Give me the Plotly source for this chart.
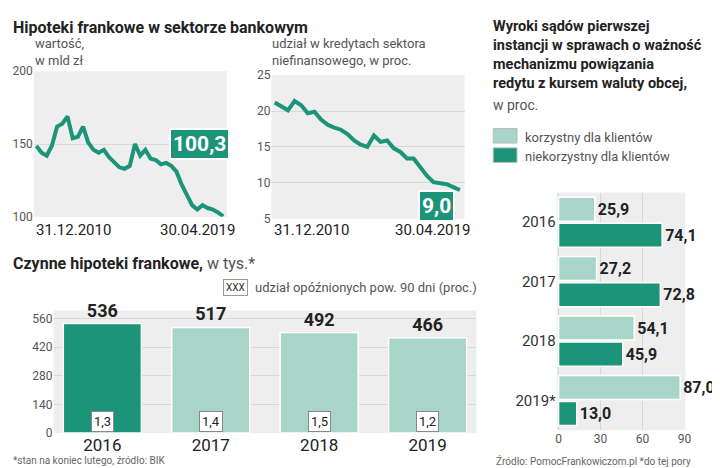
import plotly.graph_objects as go

# --- dane ---
wartosc = [148.7, 144, 142, 149, 162, 164, 169, 154, 155, 162, 151, 146, 144, 146, 141,
           137, 134, 133, 135, 150, 142, 146, 140, 139, 136, 137, 135, 131, 122, 115,
           108, 105, 108, 106, 105, 103, 100.3]
udzial = [21.2, 20.6, 20.1, 21.4, 20.8, 19.7, 19.9, 18.8, 18.1, 17.7, 17.4, 16.8, 15.9,
          15.3, 15.0, 16.6, 15.7, 15.9, 14.8, 14.3, 13.4, 13.4, 12.1, 11.0, 10.1, 9.9,
          9.8, 9.4, 9.0]
lata = ["2016", "2017", "2018", "2019"]
hipoteki = [536, 517, 492, 466]
opoznione = ["1,3", "1,4", "1,5", "1,2"]
lata_wyr = ["2016", "2017", "2018", "2019*"]
korzystny = [25.9, 27.2, 54.1, 87.0]
niekorzystny = [74.1, 72.8, 45.9, 13.0]

DARK = "#1b9479"
LIGHT = "#a8d5c7"
FONT = "Roboto, sans-serif"
W, H = 720, 468

def px(x): return x / W
def py(y): return 1 - y / H

pos = list(range(len(lata)))

fig = go.Figure()
fig.add_trace(go.Scatter(y=wartosc, mode="lines", line=dict(color=DARK, width=4),
                         xaxis="x", yaxis="y", showlegend=False))
fig.add_trace(go.Scatter(y=udzial, mode="lines", line=dict(color=DARK, width=4),
                         xaxis="x2", yaxis="y2", showlegend=False))
fig.add_trace(go.Bar(x=pos, y=hipoteki, width=0.72, orientation="v",
                     marker=dict(color=[DARK, LIGHT, LIGHT, LIGHT], line=dict(color="white", width=1.5)),
                     text=["<b>%d</b>" % v for v in hipoteki], textposition="outside",
                     textfont=dict(size=18, color="#222", family=FONT),
                     xaxis="x3", yaxis="y3", showlegend=False, cliponaxis=False))
fig.add_trace(go.Bar(y=lata_wyr, x=korzystny, orientation="h", marker=dict(color=LIGHT,
                     line=dict(color="white", width=1.5)),
                     text=["<b>" + f"{v:.1f}".replace(".", ",") + "</b>" for v in korzystny],
                     textposition="outside",
                     textfont=dict(size=16, color="#222", family=FONT),
                     xaxis="x4", yaxis="y4", showlegend=False, cliponaxis=False))
fig.add_trace(go.Bar(y=lata_wyr, x=niekorzystny, orientation="h", marker=dict(color=DARK,
                     line=dict(color="white", width=1.5)),
                     text=["<b>" + f"{v:.1f}".replace(".", ",") + "</b>" for v in niekorzystny],
                     textposition="outside",
                     textfont=dict(size=16, color="#222", family=FONT),
                     xaxis="x4", yaxis="y4", showlegend=False, cliponaxis=False))

tickf = dict(size=12, color="#555", family=FONT)
grid = dict(showgrid=True, gridcolor="#d8d8d8", zeroline=False, tickfont=tickf, ticks="")
fig.update_layout(
    width=W, height=H, margin=dict(l=0, r=0, t=0, b=0),
    paper_bgcolor="white", plot_bgcolor="#eeeeee", font=dict(family=FONT),
    barmode="group", bargap=0.12, bargroupgap=0.08,
    xaxis=dict(domain=[px(25), px(220)], visible=False, range=[-0.5, len(wartosc) - 0.3]),
    yaxis=dict(domain=[py(208), py(58)], range=[100, 200], tickvals=[100, 150, 200],
               anchor="x", **grid),
    xaxis2=dict(domain=[px(265), px(460)], visible=False, range=[-0.5, len(udzial) - 0.3]),
    yaxis2=dict(domain=[py(210), py(62)], range=[5, 25], tickvals=[5, 10, 15, 20, 25],
                anchor="x2", **grid),
    xaxis3=dict(domain=[px(45), px(472)], anchor="y3", range=[-0.45, 3.45],
                tickvals=pos, ticktext=lata, showgrid=False, zeroline=False,
                tickfont=dict(size=17, color="#222", family=FONT), ticks=""),
    yaxis3=dict(domain=[py(431), py(304.6)], range=[0, 600], tickvals=[0, 140, 280, 420, 560],
                anchor="x3", **grid),
    xaxis4=dict(domain=[px(553), px(683)], range=[-1.4, 90.7], tickvals=[0, 30, 60, 90],
                anchor="y4", **grid),
    yaxis4=dict(domain=[py(428), py(183)], type="category", autorange="reversed", anchor="x4",
                tickfont=dict(size=15, color="#333", family=FONT), ticks="", showgrid=False),
)

def note(x, y, text, size=13, color="#555", xanchor="left", yanchor="top", **kw):
    fig.add_annotation(x=px(x), y=py(y), xref="paper", yref="paper", text=text,
                       showarrow=False, xanchor=xanchor, yanchor=yanchor, align="left",
                       font=dict(size=size, color=color, family=FONT), **kw)

note(2, 1, "<b>Hipoteki frankowe w sektorze bankowym</b>", 16, "#222")
note(24, 20, "wartość,<br>w mld zł")
note(264, 20, "udział w kredytach sektora<br>niefinansowego, w proc.")
note(65, 210, "31.12.2010", 15, "#222", xanchor="center")
note(190, 210, "30.04.2019", 15, "#222", xanchor="center")
note(305, 210, "31.12.2010", 15, "#222", xanchor="center")
note(428, 210, "30.04.2019", 15, "#222", xanchor="center")
note(192, 133, "<b>100,3</b>", 21, "white", xanchor="center", yanchor="middle",
     bgcolor=DARK, bordercolor="white", borderwidth=2, borderpad=2)
note(432, 197, "<b>9,0</b>", 21, "white", xanchor="center", yanchor="middle",
     bgcolor=DARK, bordercolor="white", borderwidth=2, borderpad=2)
note(2, 244, "<b>Czynne hipoteki frankowe,</b> <span style='color:#555'>w tys.*</span>", 16, "#222")
note(216, 272, "XXX", 10, "#333", bgcolor="white", bordercolor="#999", borderwidth=1, borderpad=2)
note(246, 271, "udział opóźnionych pow. 90 dni (proc.)", 13)
for p, pct in zip(pos, opoznione):
    fig.add_annotation(x=p, y=4, xref="x3", yref="y3", text=pct, showarrow=False,
                       yanchor="bottom", font=dict(size=13, color="#222", family=FONT),
                       bgcolor="white", bordercolor="#888", borderwidth=1, borderpad=2)
note(2, 452, "*stan na koniec lutego, źródło: BIK", 10, "#666")
note(487, 1, "<b>Wyroki sądów pierwszej<br>instancji w sprawach o ważność<br>mechanizmu powiązania<br>redytu z kursem waluty obcej,</b>",
     14.5, "#222")
note(487, 82, "w proc.", 14)
fig.add_shape(type="rect", xref="paper", yref="paper", x0=px(489), x1=px(513), y0=py(117), y1=py(132),
              fillcolor=LIGHT, line=dict(color="#bbb", width=1))
fig.add_shape(type="rect", xref="paper", yref="paper", x0=px(489), x1=px(513), y0=py(137), y1=py(152),
              fillcolor=DARK, line=dict(color="#bbb", width=1))
note(519, 116, "korzystny dla klientów", 13)
note(519, 136, "niekorzystny dla klientów", 13)
note(490, 452, "Źródło: PomocFrankowiczom.pl *do tej pory", 10, "#666")

fig.write_html("out.html")
